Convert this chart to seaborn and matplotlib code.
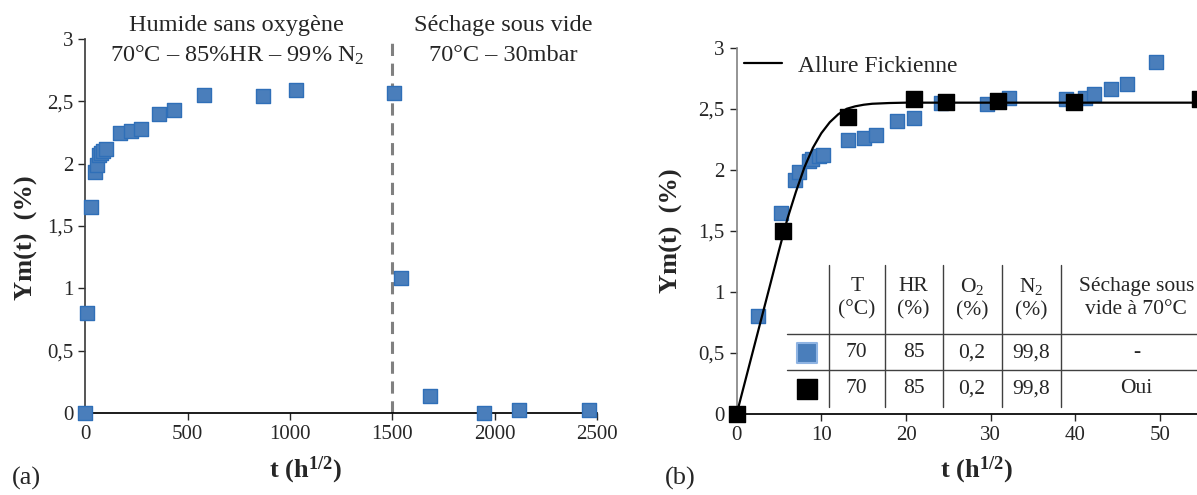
import numpy as np
import pandas as pd
import matplotlib
matplotlib.use("Agg")
import matplotlib.pyplot as plt
import seaborn as sns

# (a) full cycle: humid phase then vacuum drying
left_t = [0, 6, 25, 46, 55, 66, 76, 87, 100, 170, 222, 271, 357, 432, 577, 866, 1030,
          1510, 1544, 1686, 1949, 2121, 2459]
left_ym = [0, 0.80, 1.65, 1.93, 1.99, 2.07, 2.09, 2.10, 2.12, 2.25, 2.26, 2.28, 2.40, 2.43,
           2.55, 2.54, 2.59, 2.57, 1.08, 0.14, 0.0, 0.02, 0.02]
drying_start = 1500

# (b) sorption vs sqrt(t)
blue_x = [0, 2.57, 5.29, 6.88, 7.41, 8.51, 8.88, 9.69, 10.14, 13.15, 14.98, 16.49, 18.97,
          20.89, 24.14, 29.52, 32.17, 38.92, 41.12, 42.18, 44.18, 46.05, 49.55]
blue_y = [0, 0.80, 1.645, 1.92, 1.985, 2.075, 2.09, 2.11, 2.12, 2.247, 2.26, 2.283, 2.40,
          2.425, 2.548, 2.54, 2.589, 2.578, 2.592, 2.625, 2.66, 2.70, 2.88]
black_x = [0, 5.5, 13.15, 20.93, 24.67, 30.82, 39.82, 54.68]
black_y = [0, 1.497, 2.433, 2.578, 2.559, 2.565, 2.559, 2.576]
fick_x = [0, 2, 4, 5, 6, 7, 8, 9, 10, 11, 12, 13, 14, 15, 16, 18, 20, 25, 55]
fick_y = [0, 0.535, 1.07, 1.34, 1.60, 1.82, 2.02, 2.18, 2.30, 2.39, 2.455, 2.50, 2.52,
          2.533, 2.541, 2.547, 2.55, 2.55, 2.55]

table_header = ["T\n(°C)", "HR\n(%)", "O$_2$\n(%)", "N$_2$\n(%)", "Séchage sous\nvide à 70°C"]
table_rows = [["70", "85", "0,2", "99,8", "-"],
              ["70", "85", "0,2", "99,8", "Oui"]]

blue = "#4a7ebb"
blue_edge = "#2f6fb8"
text_c = "#262626"

sns.set_theme(style="white")
plt.rcParams["font.family"] = ["Liberation Serif", "DejaVu Serif"]
plt.rcParams["mathtext.fontset"] = "custom"
plt.rcParams["mathtext.rm"] = "Liberation Serif"
plt.rcParams["mathtext.it"] = "Liberation Serif:italic"
plt.rcParams["mathtext.bf"] = "Liberation Serif:bold"

fig = plt.figure(figsize=(11.97, 4.95), dpi=100)
ax1 = fig.add_axes([0.0714, 0.1657, 0.4273, 0.7553])
ax2 = fig.add_axes([0.6154, 0.1636, 0.3892, 0.7400])

df_a = pd.DataFrame({"t": left_t, "ym": left_ym})
sns.scatterplot(data=df_a, x="t", y="ym", marker="s", s=110, color=blue,
                edgecolor=blue_edge, linewidth=1, ax=ax1, zorder=3, clip_on=False)
ax1.axvline(drying_start, color="#808080", lw=2.2, ls=(0, (4, 2.5)), zorder=2)
ax1.set_xlim(0, 2500)
ax1.set_ylim(0, 3)
ax1.set_xticks([0, 500, 1000, 1500, 2000, 2500])

ax1.text(740, 3.11, "Humide sans oxygène", ha="center", va="center", fontsize=17.5,
         color=text_c, clip_on=False)
ax1.text(740, 2.87, "70°C – 85%HR – 99% N$_2$", ha="center", va="center", fontsize=17.5,
         color=text_c, clip_on=False)
ax1.text(2040, 3.11, "Séchage sous vide", ha="center", va="center", fontsize=17.5,
         color=text_c, clip_on=False)
ax1.text(2040, 2.87, "70°C – 30mbar", ha="center", va="center", fontsize=17.5,
         color=text_c, clip_on=False)

df_fick = pd.DataFrame({"x": fick_x, "y": fick_y})
sns.lineplot(data=df_fick, x="x", y="y", color="black", lw=1.6, ax=ax2, zorder=4,
             label="Allure Fickienne", sort=False)
df_b1 = pd.DataFrame({"x": blue_x, "y": blue_y})
df_b2 = pd.DataFrame({"x": black_x, "y": black_y})
sns.scatterplot(data=df_b1, x="x", y="y", marker="s", s=110, color=blue,
                edgecolor=blue_edge, linewidth=1, ax=ax2, zorder=3, clip_on=False)
sns.scatterplot(data=df_b2, x="x", y="y", marker="s", s=120, color="black",
                edgecolor="black", linewidth=1, ax=ax2, zorder=5, clip_on=False)
ax2.set_xlim(0, 55)
ax2.set_ylim(0, 3)
ax2.set_xticks([0, 10, 20, 30, 40, 50])
ax2.legend(loc="upper left", frameon=False, fontsize=17, handlelength=1.6,
           handletextpad=0.7, borderpad=0, borderaxespad=0,
           bbox_to_anchor=(0.016, 0.98), labelcolor=text_c)

# table inside panel (b)
col_x = [14.2, 20.9, 27.8, 34.8, 47.2]
vlines_x = [10.9, 17.5, 24.4, 31.3, 38.3]
for vx in vlines_x:
    ax2.plot([vx, vx], [0.057, 1.22], color="#404040", lw=1, zorder=2)
for hy in [0.655, 0.36]:
    ax2.plot([5.9, 56], [hy, hy], color="#404040", lw=1, zorder=2, clip_on=False)
for cx, h in zip(col_x, table_header):
    ax2.text(cx, 0.95, h, ha="center", va="center", fontsize=15.5, color=text_c,
             linespacing=1.3)
row_y = [0.5, 0.205]
for ry, row in zip(row_y, table_rows):
    for cx, v in zip(col_x, row):
        ax2.text(cx, ry, v, ha="center", va="center", fontsize=15.5, color=text_c)
ax2.scatter([8.25], [row_y[0]], marker="s", s=190, color=blue, edgecolor="#8fb4e3",
            linewidth=1.5, zorder=5)
ax2.scatter([8.25], [row_y[1]], marker="s", s=190, color="black", zorder=5)

for ax, lx, ly, xx, spc in [(ax1, -0.093, 0.47, 0.431, "#404040"),
                            (ax2, -0.115, 0.5, 0.514, "#868686")]:
    sns.despine(ax=ax)
    ax.spines["left"].set_color(spc)
    ax.spines["bottom"].set_color("black")
    ax.tick_params(direction="out", length=5, width=1, labelsize=15, colors=text_c,
                   left=True, bottom=True)
    ax.set_yticks([0, 0.5, 1, 1.5, 2, 2.5, 3])
    ax.set_yticklabels(["0", "0,5", "1", "1,5", "2", "2,5", "3"])
    ax.set_ylabel("Ym(t)  (%)", fontsize=19, fontweight="bold", color=text_c)
    ax.set_xlabel(r"t (h$^{\mathbf{1/2}}$)", fontsize=19, fontweight="bold", color=text_c)
    ax.yaxis.set_label_coords(lx, ly)
    ax.xaxis.set_label_coords(xx, -0.112)

fig.text(12 / 1197, 1 - 478 / 495, "(a)", fontsize=19, va="center", color=text_c)
fig.text(665 / 1197, 1 - 478 / 495, "(b)", fontsize=19, va="center", color=text_c)

fig.savefig("out.png", dpi=100)
